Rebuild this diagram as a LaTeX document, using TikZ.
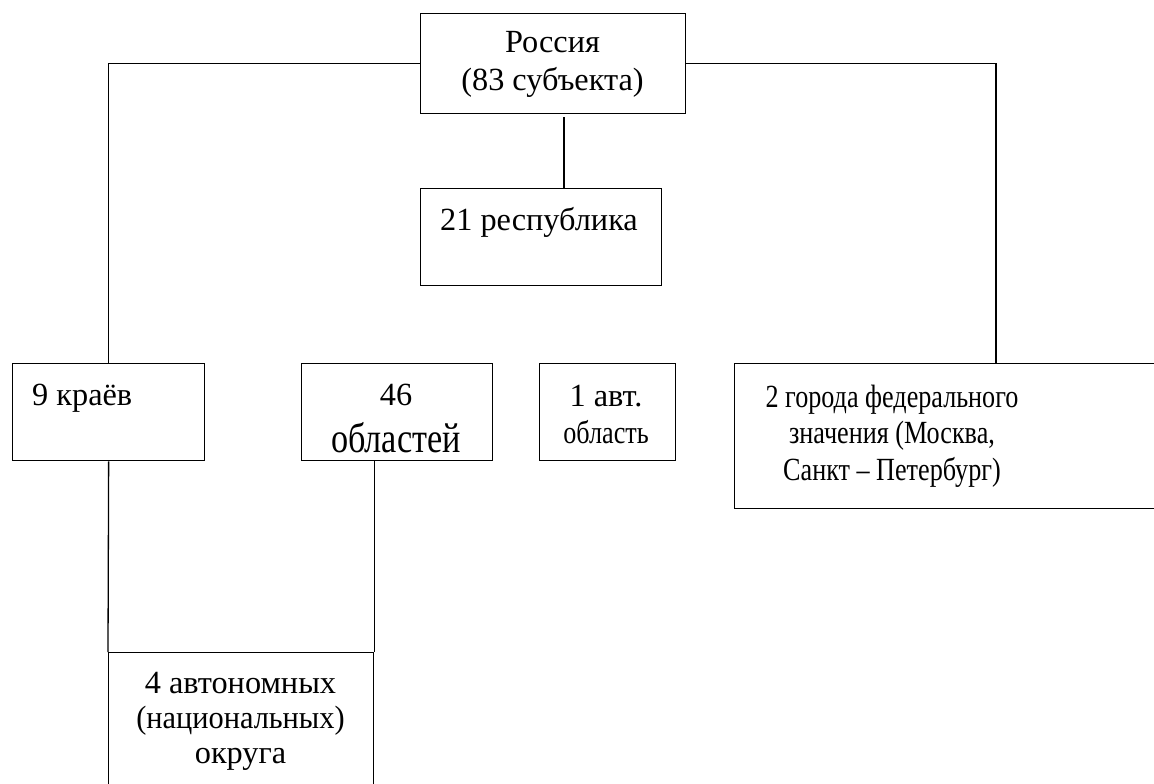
\documentclass[tikz,border=0pt]{standalone}
\usepackage{graphicx}
\usepackage{fontspec}
\setmainfont{Liberation Serif}
\newfontfamily\condfont[FakeStretch=0.81]{Liberation Serif}
\begin{document}
\begin{tikzpicture}[x=1pt,y=-1pt,
  box/.style={draw,line width=1.3pt,rectangle,inner sep=0pt,anchor=north west},
  txt/.style={inner sep=0pt,anchor=base,align=center,font=\fontsize{32.3}{37}\selectfont},
  conn/.style={line width=1.3pt}]
\useasboundingbox (0,0) rectangle (1154,784);
% boxes
\node[box,minimum width=265pt,minimum height=100pt] (ros) at (420,13) {};
\node[box,minimum width=241pt,minimum height=97pt] (rep) at (420,188) {};
\node[box,minimum width=192pt,minimum height=97pt] (kr) at (12,363) {};
\node[box,minimum width=191pt,minimum height=97pt] (obl) at (301,363) {};
\node[box,minimum width=136pt,minimum height=97pt] (avt) at (539,363) {};
\node[box,minimum width=436pt,minimum height=145pt] (gor) at (734,363) {};
\node[box,minimum width=265pt,minimum height=150pt] (aut) at (108,652) {};
% texts (anchor = baseline of the last line)
\node[txt] (tros) at (552.5,90) {Россия\\(83 субъекта)};
\node[txt] (trep) at (539,230) {21 республика};
\node[txt,anchor=base west] (tkr) at (32,405) {9 краёв};
\node[txt] (tobl) at (396,452) {46\\[10pt]\scalebox{1.06}[1.3]{областей}};
\node[txt] (tavt) at (606,443) {1 авт.\\{\condfont область}};
\node[txt,font=\condfont\fontsize{32.3}{36.5}\selectfont] (tgor) at (892,480) {2 города федерального\\значения (Москва,\\Санкт – Петербург)};
\node[txt,font=\fontsize{32.3}{35}\selectfont] (taut) at (240.5,763) {4 автономных\\\scalebox{0.94}[1]{(национальных)}\\округа};
% connector helper points
\coordinate (gtop) at (996,363);
\coordinate (ctop) at (564,117);
\coordinate (cbot) at (564,188);
% connectors
\draw[conn] (ros.west) -| (kr.north);
\draw[conn] (ros.east) -| (gtop);
\draw[conn] (ctop) -- (cbot);
\draw[conn] (kr.south) -- (aut.north west);
\draw[conn] (aut.north east |- obl.south) -- (aut.north east);
\end{tikzpicture}
\end{document}
